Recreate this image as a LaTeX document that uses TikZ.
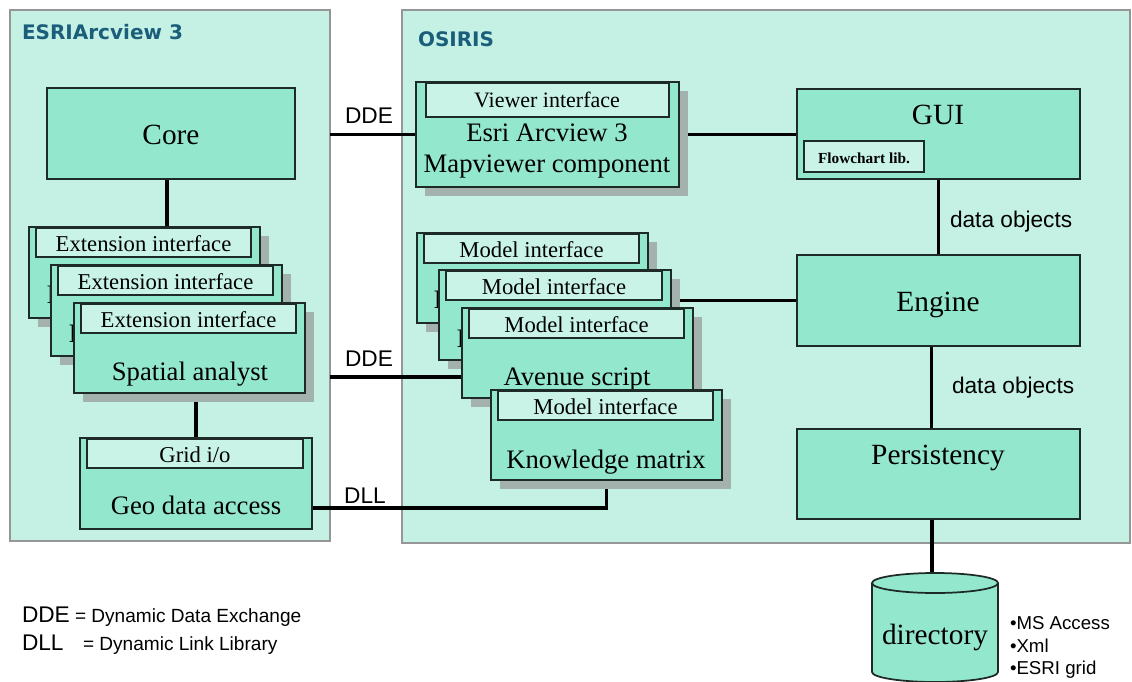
\documentclass[tikz,border=0pt]{standalone}
\usepackage{fontspec}
\setmainfont{Liberation Serif}
\newfontfamily\arialf{Liberation Sans}
\newfontfamily\titlef{DejaVu Sans}
\usetikzlibrary{fit,calc,shadows}

\definecolor{panelbg}{HTML}{C4F1E3}
\definecolor{panelline}{HTML}{969696}
\definecolor{boxfill}{HTML}{93E7CC}
\definecolor{boxline}{HTML}{1E2A26}
\definecolor{ifacefill}{HTML}{C8F3E6}
\definecolor{shadowc}{HTML}{A3B2AC}
\definecolor{titlec}{HTML}{1B5E7B}

\newcommand\fsz[1]{\fontsize{#1pt}{#1pt}\selectfont}

\pgfdeclarelayer{panels}
\pgfdeclarelayer{wires}
\pgfsetlayers{panels,wires,main}

\tikzset{
  every node/.style={inner sep=0pt, outer sep=0pt},
  panel/.style={draw=panelline, fill=panelbg, line width=1pt},
  comp/.style={draw=boxline, fill=boxfill, line width=1.3pt},
  shadowed/.style={drop shadow={shadow xshift=6.75pt, shadow yshift=-6.75pt, opacity=1, fill=shadowc}},
  iface/.style={draw=boxline, fill=ifacefill, line width=1.3pt},
  wire/.style={line width=2.3pt, draw=black},
  bigtxt/.style={font=\fsz{22}, anchor=base},
  nametxt/.style={font=\fsz{20}, anchor=base},
  iftxt/.style={font=\fsz{17}, anchor=base},
  sanstxt/.style={font=\arialf\fsz{17}, anchor=base},
  titletxt/.style={font=\titlef\bfseries\fsz{15}, text=titlec, anchor=base west},
}

% component box with an interface strip along its top edge
\newcommand\stackbox[6]{%
  \node[comp, shadowed, fit={(#2,#3)(#4,#5)}] (#1) {};
  \node[iface, fit={(#2+7,#3+1)(#4-9,#3+30)}] (#1if) {};
  \node[iftxt] (#1iftxt) at ({(#2+#4)/2-1},{#3+24}) {#6};
}

\begin{document}
\begin{tikzpicture}[x=0.75pt,y=-0.75pt]
\useasboundingbox (0,0) rectangle (1132,682);

\begin{pgfonlayer}{panels}
  \fill[white] (0,0) rectangle (1132,682);
  \node[panel, fit={(10,10)(330,541)}] (arcview) {};
  \node[panel, fit={(402,10)(1130,543)}] (osiris) {};
\end{pgfonlayer}

\node[titletxt] (arcviewtitle) at (22,39) {ESRIArcview 3};
\node[titletxt] (osiristitle) at (418,46) {OSIRIS};

% ArcView side
\node[comp, fit={(47,88)(295,179)}] (core) {};
\node[bigtxt] (coretxt) at (171,144) {Core};

\stackbox{ext1}{29}{227}{260}{318}{Extension interface}
\node[nametxt] (ext1txt) at (51,303) {I};
\stackbox{ext2}{51}{265}{282}{356}{Extension interface}
\node[nametxt] (ext2txt) at (73,342) {I};
\stackbox{ext3}{74}{303}{305}{393}{Extension interface}
\node[nametxt] (ext3txt) at (190,380) {Spatial analyst};

\node[comp, fit={(80,438)(312,529)}] (geo) {};
\node[iface, fit={(87,439)(303,468)}] (geoif) {};
\node[iftxt] (geoiftxt) at (195,462) {Grid i/o};
\node[nametxt] (geotxt) at (196,514) {Geo data access};

% OSIRIS side
\node[comp, shadowed, fit={(416,82)(679,187)}] (viewer) {};
\node[iface, fit={(426,83)(669,117)}] (viewerif) {};
\node[iftxt, font=\fsz{16.5}] (vieweriftxt) at (547,107) {Viewer interface};
\node[nametxt] (viewertxt1) at (547,141) {Esri Arcview 3};
\node[nametxt] (viewertxt2) at (547,172) {Mapviewer component};

\stackbox{mod1}{417}{233}{648}{323}{Model interface}
\node[nametxt] (mod1txt) at (438,308) {I};
\stackbox{mod2}{439}{270}{671}{360}{Model interface}
\node[nametxt] (mod2txt) at (461,347) {I};
\stackbox{mod3}{462}{308}{693}{398}{Model interface}
\node[nametxt] (mod3txt) at (577,385) {Avenue script};
\stackbox{mod4}{491}{390}{722}{480}{Model interface}
\node[nametxt] (mod4txt) at (606,468) {Knowledge matrix};

\node[comp, fit={(797,89)(1080,179)}] (gui) {};
\node[bigtxt] (guitxt) at (938,124) {GUI};
\node[iface, fit={(804,141)(924,172)}] (flowlib) {};
\node[font=\bfseries\fsz{11.5}, anchor=base] (flowlibtxt) at (864,163) {Flowchart lib.};

\node[comp, fit={(797,255)(1080,346)}] (engine) {};
\node[bigtxt] (enginetxt) at (938,311) {Engine};

\node[comp, fit={(797,429)(1080,519)}] (pers) {};
\node[bigtxt] (perstxt) at (938,464) {Persistency};

% directory cylinder
\filldraw[fill=boxfill, draw=boxline, line width=1.3pt] (935,672) ellipse [x radius=63, y radius=10];
\fill[boxfill] (872,583) rectangle (998,672);
\draw[boxline, line width=1.3pt] (872,583) -- (872,672) (998,583) -- (998,672);
\filldraw[fill=boxfill, draw=boxline, line width=1.3pt] (935,583) ellipse [x radius=63, y radius=10];
\coordinate (dirtop) at (932,573);
\node[bigtxt] (dirtxt) at (935,644) {directory};

\node[font=\arialf\fsz{14}, anchor=base west] (fmt1) at (1010,629) {•MS Access};
\node[font=\arialf\fsz{14}, anchor=base west] (fmt2) at (1010,652) {•Xml};
\node[font=\arialf\fsz{14}, anchor=base west] (fmt3) at (1010,674) {•ESRI grid};

% connector labels
\node[sanstxt] (ddetop) at (369,123) {DDE};
\node[sanstxt] (ddemid) at (369,366) {DDE};
\node[sanstxt] (dll) at (365,503) {DLL};
\node[sanstxt, anchor=base west] (dobj1) at (950,227) {data objects};
\node[sanstxt, anchor=base west] (dobj2) at (952,393) {data objects};

% legend
\node[sanstxt, anchor=base west] (legdde) at (22,622) {DDE};
\node[font=\arialf\fsz{14.3}, anchor=base west] (legddetxt) at (75,622) {= Dynamic Data Exchange};
\node[sanstxt, anchor=base west] (legdll) at (22,650) {DLL};
\node[font=\arialf\fsz{14.3}, anchor=base west] (legdlltxt) at (83,650) {= Dynamic Link Library};

% connectors
\begin{pgfonlayer}{wires}
  \coordinate (coreout) at ($(core.south)+(-4,0)$);
  \coordinate (engout) at ($(engine.south)+(-7,0)$);
  \coordinate (ddeY) at (0,377);
  \coordinate (dllY) at (0,508);
  \draw[wire] (coreout) -- (coreout |- ext1.north);
  \draw[wire] (geo.north) -- (geo.north |- ext3.south);
  \draw[wire] (arcview.east |- viewer.west) -- (viewer.west);
  \draw[wire] (viewer.east) -- (viewer.east -| gui.west);
  \draw[wire] (gui.south) -- (gui.south |- engine.north);
  \draw[wire] (engout) -- (engout |- pers.north);
  \draw[wire] (dirtop |- pers.south) -- (dirtop);
  \draw[wire] (mod2.east |- engine.west) -- (engine.west);
  \draw[wire] (arcview.east |- ddeY) -- (mod3.west |- ddeY);
  \draw[wire] (geo.east |- dllY) -| (mod4.south);
\end{pgfonlayer}
\end{tikzpicture}
\end{document}
